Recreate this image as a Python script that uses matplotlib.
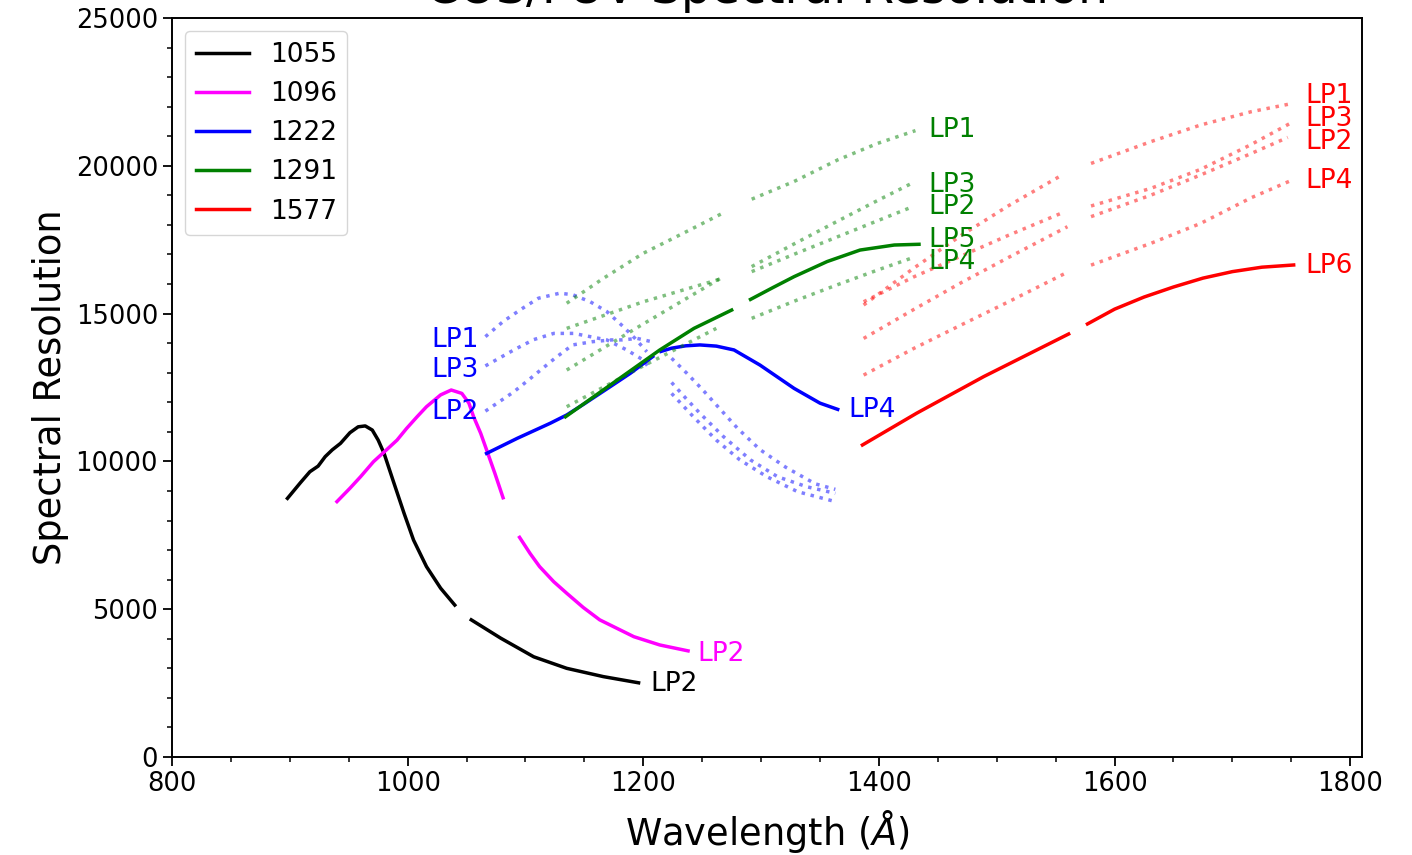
import numpy as np
import matplotlib
matplotlib.use("Agg")
import matplotlib.pyplot as plt
from matplotlib.ticker import MultipleLocator

nan = np.nan

# ---------------- data (wavelength in Angstrom, resolution) ----------------
# 1055 LP2 (solid)
w1055_lp2 = [898, 909, 917, 924, 930, 936, 943, 951, 958, 964, 970, 975, 980, 988, 997, 1005, 1016, 1028, 1040,
             nan, 1054, 1079, 1107, 1135, 1166, 1196]
r1055_lp2 = [8750, 9280, 9650, 9840, 10160, 10390, 10610, 10970, 11170, 11200, 11060, 10720, 10270, 9310, 8240, 7340, 6440, 5710, 5140,
             nan, 4640, 4020, 3390, 3000, 2720, 2510]

# 1096 LP2 (solid)
w1096_lp2 = [940, 951, 960, 971, 982, 991, 999, 1008, 1016, 1028, 1037, 1046, 1052, 1056, 1062, 1067, 1074, 1081,
             nan, 1095, 1104, 1112, 1124, 1135, 1149, 1163, 1192, 1214, 1238]
r1096_lp2 = [8640, 9090, 9480, 9990, 10390, 10720, 11110, 11510, 11850, 12250, 12415, 12300, 11970, 11510, 10950, 10390, 9600, 8770,
             nan, 7430, 6880, 6440, 5930, 5540, 5060, 4640, 4070, 3790, 3590]

# 1222 (LP4 solid, LP1/LP2/LP3 dotted)
w1222_lp4 = [1067, 1093, 1121, 1135, 1150, 1169, 1189, 1208, nan, 1215, 1224, 1236, 1248, 1262, 1277, 1299, 1328, 1350, 1365]
r1222_lp4 = [10270, 10780, 11290, 11570, 11950, 12450, 12980, 13545, nan, 13720, 13830, 13910, 13940, 13900, 13770, 13260, 12470, 11970, 11760]

w1222_lp1 = [1066, 1081, 1096, 1111, 1129, 1140, 1155, 1169, 1183, 1193, 1203, nan, 1224, 1236, 1248, 1268, 1291, 1314, 1339, 1363]
r1222_lp1 = [14220, 14730, 15140, 15520, 15690, 15640, 15400, 15070, 14560, 14160, 13710, nan, 12670, 12140, 11630, 10840, 10050, 9480, 9140, 8920]

w1222_lp3 = [1066, 1091, 1107, 1124, 1141, 1155, 1169, 1186, 1200, 1206, nan, 1224, 1243, 1262, 1282, 1305, 1331, 1363]
r1222_lp3 = [13230, 13790, 14120, 14330, 14330, 14220, 14110, 13770, 13430, 13100, nan, 12300, 11490, 10720, 10050, 9480, 8975, 8640]

w1222_lp2 = [1066, 1090, 1104, 1125, 1140, 1157, 1173, 1182, 1195, 1207, nan, 1224, 1237, 1250, 1262, 1280, 1299, 1321, 1346, 1363]
r1222_lp2 = [11700, 12350, 12800, 13490, 13940, 14050, 14110, 14110, 14160, 14050, nan, 13490, 12980, 12440, 11910, 11120, 10400, 9800, 9240, 9055]

# 1291 (LP5 solid, LP1-LP4 dotted)
w1291_lp5 = [1134, 1158, 1186, 1214, 1243, 1275, nan, 1291, 1310, 1328, 1356, 1384, 1413, 1434]
r1291_lp5 = [11510, 12190, 12980, 13770, 14500, 15120, nan, 15480, 15880, 16250, 16760, 17150, 17320, 17345]

w1291_lp1 = [1135, 1166, 1200, 1234, 1268, nan, 1292, 1328, 1365, 1399, 1431]
r1291_lp1 = [15350, 16190, 17040, 17720, 18410, nan, 18870, 19470, 20200, 20760, 21190]

w1291_lp3 = [1135, 1200, 1268, nan, 1292, 1330, 1365, 1400, 1430]
r1291_lp3 = [13090, 14650, 16250, nan, 16590, 17400, 18130, 18850, 19450]

w1291_lp2 = [1135, 1200, 1268, nan, 1292, 1330, 1365, 1400, 1427]
r1291_lp2 = [14500, 15400, 16200, nan, 16420, 17040, 17600, 18160, 18590]

w1291_lp4 = [1135, 1200, 1262, nan, 1292, 1330, 1365, 1400, 1430]
r1291_lp4 = [11850, 13230, 14500, nan, 14840, 15450, 15980, 16490, 16910]

# 1577 (LP6 solid, LP1-LP4 dotted)
w1577_lp6 = [1386, 1432, 1489, 1561, nan, 1577, 1600, 1625, 1650, 1675, 1700, 1725, 1752]
r1577_lp6 = [10555, 11630, 12870, 14310, nan, 14650, 15150, 15560, 15900, 16200, 16420, 16570, 16645]

w1577_lp1 = [1387, 1430, 1470, 1510, 1554, nan, 1580, 1631, 1673, 1716, 1751]
r1577_lp1 = [15290, 16550, 17650, 18650, 19655, nan, 20080, 20820, 21380, 21830, 22110]

w1577_lp3 = [1387, 1430, 1470, 1510, 1558, nan, 1580, 1631, 1673, 1715, 1752]
r1577_lp3 = [15400, 16250, 16950, 17650, 18450, nan, 18640, 19240, 19880, 20700, 21500]

w1577_lp2 = [1387, 1430, 1470, 1510, 1560, nan, 1580, 1631, 1673, 1715, 1747]
r1577_lp2 = [14160, 15150, 16050, 16900, 17940, nan, 18280, 19010, 19690, 20400, 20960]

w1577_lp4 = [1387, 1430, 1470, 1510, 1557, nan, 1580, 1631, 1673, 1716, 1752]
r1577_lp4 = [12920, 13830, 14620, 15400, 16340, nan, 16640, 17380, 18050, 18920, 19540]

cenwaves = ["1055", "1096", "1222", "1291", "1577"]
colors = ["black", "magenta", "blue", "green", "red"]

# (cenwave index, wavelengths, resolution, solid?)
series = [
    (0, w1055_lp2, r1055_lp2, True),
    (1, w1096_lp2, r1096_lp2, True),
    (2, w1222_lp1, r1222_lp1, False),
    (2, w1222_lp3, r1222_lp3, False),
    (2, w1222_lp2, r1222_lp2, False),
    (2, w1222_lp4, r1222_lp4, True),
    (3, w1291_lp1, r1291_lp1, False),
    (3, w1291_lp3, r1291_lp3, False),
    (3, w1291_lp2, r1291_lp2, False),
    (3, w1291_lp4, r1291_lp4, False),
    (3, w1291_lp5, r1291_lp5, True),
    (4, w1577_lp1, r1577_lp1, False),
    (4, w1577_lp3, r1577_lp3, False),
    (4, w1577_lp2, r1577_lp2, False),
    (4, w1577_lp4, r1577_lp4, False),
    (4, w1577_lp6, r1577_lp6, True),
]

# text labels: (text, x, y, cenwave index, horizontal alignment)
labels = [
    ("LP2", 1206, 2470, 0, "left"),
    ("LP2", 1246, 3484, 1, "left"),
    ("LP4", 1374, 11739, 2, "left"),
    ("LP1", 1060, 14107, 2, "right"),
    ("LP3", 1060, 13092, 2, "right"),
    ("LP2", 1060, 11671, 2, "right"),
    ("LP1", 1442, 21211, 3, "left"),
    ("LP3", 1442, 19350, 3, "left"),
    ("LP2", 1442, 18606, 3, "left"),
    ("LP5", 1442, 17490, 3, "left"),
    ("LP4", 1442, 16745, 3, "left"),
    ("LP1", 1762, 22361, 4, "left"),
    ("LP3", 1762, 21583, 4, "left"),
    ("LP2", 1762, 20805, 4, "left"),
    ("LP4", 1762, 19486, 4, "left"),
    ("LP6", 1762, 16610, 4, "left"),
]

# ---------------- figure ----------------
W, H = 1412, 855
fig = plt.figure(figsize=(W / 100, H / 100), dpi=100)
ax = fig.add_axes([172 / W, 1 - 757 / H, 1190 / W, 739 / H])

LW = 2.5
labelled = set()
for ci, w, r, solid in series:
    kw = dict(color=colors[ci], lw=LW)
    if solid:
        lab = cenwaves[ci] if ci not in labelled else None
        labelled.add(ci)
        ax.plot(w, r, ls="-", label=lab, **kw)
    else:
        ax.plot(w, r, ls=":", alpha=0.5, **kw)

for txt, x, y, ci, ha in labels:
    ax.text(x, y, txt, color=colors[ci], fontsize=19, ha=ha, va="center")

ax.set_xlim(800, 1810)
ax.set_ylim(0, 25000)
ax.xaxis.set_major_locator(MultipleLocator(200))
ax.xaxis.set_minor_locator(MultipleLocator(50))
ax.yaxis.set_major_locator(MultipleLocator(5000))
ax.yaxis.set_minor_locator(MultipleLocator(1000))
ax.tick_params(which="major", length=6.5, width=1.3, labelsize=18.5)
ax.tick_params(which="minor", length=3.7, width=1.1)
for sp in ax.spines.values():
    sp.set_linewidth(1.4)

ax.set_xlabel(r"Wavelength ($\AA$)", fontsize=26.5, labelpad=8)
ax.set_ylabel("Spectral Resolution", fontsize=26.5, labelpad=5)
ax.set_title("COS/FUV Spectral Resolution", fontsize=34, pad=10.5)

leg = ax.legend(loc="upper left", fontsize=19, handlelength=2.0)

fig.savefig("out.png", dpi=100)
